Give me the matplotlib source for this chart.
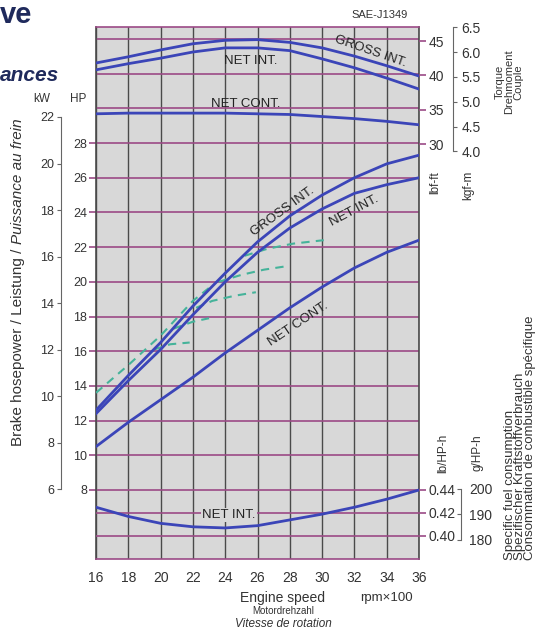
## Engine performance curve (SAE-J1349), power / torque / fuel consumption vs engine speed

import matplotlib
matplotlib.use('Agg')
import matplotlib.pyplot as plt

plt.rcParams['font.family'] = ['Liberation Sans', 'DejaVu Sans']

########################################################################################################################
# Data

rpm = [16, 18, 20, 22, 24, 26, 28, 30, 32, 34, 36]          # engine speed, rpm x 100

# Brake horsepower (HP)
hp_gross = [12.6, 14.6, 16.5, 18.6, 20.5, 22.3, 23.8, 25.0, 26.0, 26.8, 27.3]
hp_net = [12.4, 14.3, 16.1, 18.1, 20.0, 21.7, 23.1, 24.2, 25.1, 25.6, 26.0]
hp_cont = [10.5, 11.9, 13.2, 14.5, 15.9, 17.2, 18.5, 19.7, 20.8, 21.7, 22.4]

# Torque (lbf-ft)
tq_gross = [41.8, 42.7, 43.7, 44.6, 45.1, 45.2, 44.8, 44.0, 42.8, 41.4, 39.9]
tq_net = [40.8, 41.7, 42.5, 43.4, 44.0, 44.0, 43.6, 42.4, 41.1, 39.6, 38.0]
tq_cont = [34.4, 34.5, 34.5, 34.5, 34.5, 34.4, 34.3, 34.0, 33.7, 33.3, 32.8]

# Specific fuel consumption, NET INT. (lb/HP-h)
sfc_net = [0.425, 0.417, 0.411, 0.408, 0.407, 0.409, 0.414, 0.419, 0.425, 0.432, 0.440]

# Dashed green partial curves (rpm x 100, HP)
dash_rpm = [[16, 18, 20, 22, 23.2],
            [19.6, 20.6, 21.8],
            [20.8, 22.0, 23.0],
            [22.2, 23.2, 24.6, 25.9],
            [23.6, 25.0, 26.4, 27.8],
            [25.2, 26.6, 28.2, 30.1]]
dash_hp = [[13.6, 15.2, 16.9, 18.9, 19.8],
           [16.1, 16.4, 16.5],
           [17.3, 17.7, 17.9],
           [18.5, 18.9, 19.2, 19.4],
           [20.0, 20.4, 20.7, 20.9],
           [21.5, 21.9, 22.2, 22.4]]

# Axis ticks
rpm_ticks = [16, 18, 20, 22, 24, 26, 28, 30, 32, 34, 36]
hp_ticks = [8, 10, 12, 14, 16, 18, 20, 22, 24, 26, 28]
hp_grid = [8, 10, 12, 14, 16, 18, 20, 22, 24, 26, 28, 30, 32, 34]
kw_ticks = [6, 8, 10, 12, 14, 16, 18, 20, 22]
tq_ticks = [30, 35, 40, 45]
kgf_ticks = [4.0, 4.5, 5.0, 5.5, 6.0, 6.5]
sfc_ticks = [0.40, 0.42, 0.44]
sfc_grid = [0.40, 0.42]
g_ticks = [180, 190, 200]

########################################################################################################################
# Styles

W, H = 542, 634
BG = '#d8d8d8'
GRID = '#9b4a86'
VGRID = '#4a4a4a'
BLUE = '#3b45b8'
GREEN = '#45b39a'
TXT = '#333333'
NAVY = '#1f2a5c'


def fx(px):
    return px / W


def fy(py):
    return 1 - py / H


fig = plt.figure(figsize=(W / 100, H / 100), dpi=100)

ax = fig.add_axes([fx(96), fy(559), 323 / W, 532 / H])
ax.set_facecolor(BG)
ax.set_xlim(16, 36)
ax.set_ylim(4.02, 34.69)

# Torque and fuel axes share the same frame
ax_t = ax.twinx()
ax_t.set_ylim(-30.43, 47.04)
ax_f = ax.twinx()
ax_f.set_ylim(0.38, 0.8426)

########################################################################################################################
# Grid and frame

for h in hp_grid:
    ax.axhline(h, color=GRID, lw=1.2, zorder=1)
for s in sfc_grid:
    ax_f.axhline(s, color=GRID, lw=1.2, zorder=1)

ax.set_xticks(rpm_ticks)
ax.grid(axis='x', color=VGRID, lw=1.0)
ax.set_axisbelow(True)
ax.tick_params(axis='x', length=0, pad=9, labelsize=10, labelcolor=TXT)

ax.set_yticks(hp_ticks)
ax.tick_params(axis='y', direction='out', length=5, width=1.2, color=GRID, pad=1.5,
               labelsize=9, labelcolor=TXT)

ax.spines['left'].set_color(VGRID)
ax.spines['right'].set_color(VGRID)
ax.spines['top'].set_color(GRID)
ax.spines['bottom'].set_color(GRID)
for sp in ax.spines.values():
    sp.set_linewidth(1.2)

for a in (ax_t, ax_f):
    for sp in a.spines.values():
        sp.set_visible(False)

ax_t.set_yticks(tq_ticks)
ax_t.tick_params(axis='y', direction='out', length=5, width=1.2, color=GRID, pad=2,
                 labelsize=10, labelcolor=TXT)

ax_f.set_yticks(sfc_ticks)
ax_f.set_yticklabels(['%.2f' % v for v in sfc_ticks])
ax_f.tick_params(axis='y', direction='out', length=5, width=1.2, color=GRID, pad=2,
                 labelsize=10, labelcolor=TXT)

# kW scale (left), kgf-m (right top), g/HP-h (right bottom)
sec_kw = ax.secondary_yaxis((61 - 96) / 323, functions=(lambda v: v * 0.7457, lambda v: v / 0.7457))
sec_kw.set_yticks(kw_ticks)
sec_kw.spines['left'].set_bounds(6, 22)
sec_kw.spines['left'].set_color('#666666')
sec_kw.tick_params(direction='out', length=3, color='#666666', pad=2, labelsize=9, labelcolor=TXT)

sec_kg = ax_t.secondary_yaxis((453 - 96) / 323, functions=(lambda v: v / 7.233, lambda v: v * 7.233))
sec_kg.set_yticks(kgf_ticks)
sec_kg.set_yticklabels(['%.1f' % v for v in kgf_ticks])
sec_kg.spines['right'].set_bounds(4.0, 6.5)
sec_kg.spines['right'].set_color('#666666')
sec_kg.tick_params(direction='out', length=3, color='#666666', pad=3, labelsize=10, labelcolor=TXT)

sec_g = ax_f.secondary_yaxis((461 - 96) / 323, functions=(lambda v: v * 453.6, lambda v: v / 453.6))
sec_g.set_yticks(g_ticks)
sec_g.spines['right'].set_bounds(180, 200)
sec_g.spines['right'].set_color('#666666')
sec_g.tick_params(direction='in', length=3, color='#666666', pad=6, labelsize=10, labelcolor=TXT)

########################################################################################################################
# Curves

ax.plot(rpm, hp_gross, color=BLUE, lw=2, zorder=4)
ax.plot(rpm, hp_net, color=BLUE, lw=2, zorder=4)
ax.plot(rpm, hp_cont, color=BLUE, lw=2, zorder=4)

for xs, ys in zip(dash_rpm, dash_hp):
    ax.plot(xs, ys, color=GREEN, lw=1.5, dashes=(4, 3), zorder=3)

ax_t.plot(rpm, tq_gross, color=BLUE, lw=2)
ax_t.plot(rpm, tq_net, color=BLUE, lw=2)
ax_t.plot(rpm, tq_cont, color=BLUE, lw=2)

ax_f.plot(rpm, sfc_net, color=BLUE, lw=2)

########################################################################################################################
# Curve labels

lab = dict(fontsize=9.5, color='#222222', ha='center', va='center')
fig.text(fx(370), fy(51), 'GROSS INT.', rotation=-19, **lab)
fig.text(fx(251), fy(61), 'NET INT.', **lab)
fig.text(fx(246), fy(104), 'NET CONT.', **lab)
fig.text(fx(283), fy(212), 'GROSS INT.', rotation=36, **lab)
fig.text(fx(354), fy(211), 'NET INT.', rotation=28, **lab)
fig.text(fx(298), fy(324), 'NET CONT.', rotation=34, **lab)
fig.text(fx(229), fy(515), 'NET INT.', bbox=dict(facecolor=BG, edgecolor='none', pad=1), **lab)

########################################################################################################################
# Titles and axis texts

fig.text(fx(0), fy(23), 've', fontsize=21, fontweight='bold', color=NAVY, ha='left', va='baseline')
fig.text(fx(0), fy(81), 'ances', fontsize=15, fontweight='bold', style='italic', color=NAVY,
         ha='left', va='baseline')
fig.text(fx(380), fy(15), 'SAE-J1349', fontsize=8, color=TXT, ha='center', va='center')

fig.text(fx(42), fy(99), 'kW', fontsize=8.5, color=TXT, ha='center', va='center')
fig.text(fx(78), fy(99), 'HP', fontsize=8.5, color=TXT, ha='center', va='center')

# left title: upright part, then the French part in italics right after it
t1 = fig.text(fx(18), fy(446), 'Brake hosepower / Leistung / ', fontsize=11, color=TXT,
              rotation=90, ha='center', va='bottom')
fig.canvas.draw()
top_px = t1.get_window_extent().y1
fig.text(fx(18), top_px / H, 'Puissance au frein', fontsize=11, style='italic', color=TXT,
         rotation=90, ha='center', va='bottom')

fig.text(fx(435), fy(183), 'lbf-ft', fontsize=8.5, color=TXT, rotation=90, ha='center', va='center')
fig.text(fx(468), fy(185), 'kgf-m', fontsize=8.5, color=TXT, rotation=90, ha='center', va='center')
fig.text(fx(509), fy(82), 'Torque\nDrehmoment\nCouple', fontsize=8, color=TXT, rotation=90,
         ha='center', va='center', multialignment='center', linespacing=0.9)

fig.text(fx(443), fy(453), 'lb/HP-h', fontsize=8.5, color=TXT, rotation=90, ha='center', va='center')
fig.text(fx(477), fy(453), 'g/HP-h', fontsize=8.5, color=TXT, rotation=90, ha='center', va='center')
fig.text(fx(520), fy(560),
         'Specific fuel consumption\nSpezifischer Kraftstoffverbrauch\nConsommation de combustible spécifique',
         fontsize=9.5, color=TXT, rotation=90, ha='center', va='bottom', multialignment='left',
         linespacing=0.82)

fig.text(fx(283), fy(598), 'Engine speed', fontsize=10, color=TXT, ha='center', va='center')
fig.text(fx(283), fy(611), 'Motordrehzahl', fontsize=7, color=TXT, ha='center', va='center')
fig.text(fx(283), fy(624), 'Vitesse de rotation', fontsize=8.5, style='italic', color=TXT,
         ha='center', va='center')
fig.text(fx(386), fy(598), 'rpm×100', fontsize=9.5, color=TXT, ha='center', va='center')

fig.savefig('out.png', dpi=100)
